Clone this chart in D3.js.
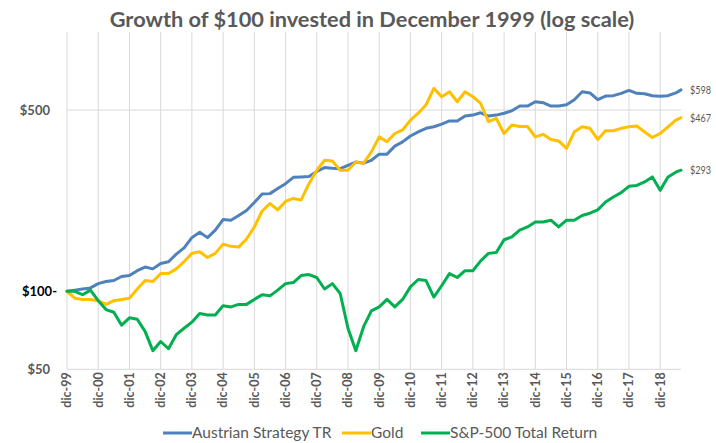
<!DOCTYPE html>
<html>
<head>
<meta charset="utf-8">
<script src="https://cdn.jsdelivr.net/npm/d3@7"></script>
<style>
  body { margin: 0; background: #fff; }
  svg { display: block; font-family: Lato, "Open Sans", sans-serif; }
</style>
</head>
<body>
<div id="chart"></div>
<script>
// months since Dec 1999, sampled quarterly, plus the last month (Aug 2019)
const sampleMonths = d3.range(0, 235, 3).concat([236]);

const austrian = [100, 101, 102, 103, 107, 109, 110, 114, 115, 120, 124, 122, 128, 130, 139, 147,
  161, 169, 161, 172, 189, 188, 196, 205, 220, 237, 238, 249, 260, 275, 276,
  277, 290, 300, 298, 297, 306, 315, 312, 320, 338, 338, 363, 377, 397, 412,
  425, 431, 441, 454, 454, 474, 478, 488, 474, 478, 486, 497, 518, 518, 538,
  534, 518, 518, 524, 548, 588, 582, 548, 566, 568, 580, 595, 580, 578, 568, 565, 568, 582, 598];

const gold = [100, 94, 93, 93, 92, 89, 92, 93, 94, 102, 110, 109, 117, 117, 122, 130,
  140, 142, 135, 140, 152, 149, 148, 159, 177, 204, 218, 206, 222, 228, 225,
  260, 293, 320, 318, 293, 293, 315, 312, 345, 394, 377, 406, 419, 457, 486,
  524, 606, 563, 588, 538, 588, 563, 530, 451, 464, 406, 438, 432, 432, 394,
  403, 385, 380, 356, 412, 431, 425, 385, 416, 416, 425, 431, 434, 412, 392, 406, 431, 457, 467];

const sp500 = [100, 100, 97, 101, 92, 85, 83, 74, 79, 78, 70, 59, 64, 60, 68, 72,
  76, 82, 81, 81, 88, 87, 89, 89, 93, 97, 96, 101, 107, 108, 115,
  116, 113, 102, 107, 98, 72, 59, 73, 84, 87, 93, 87, 93, 104, 111,
  110, 95, 105, 117, 113, 120, 120, 131, 140, 141, 158, 162, 172, 177, 185,
  185, 188, 177, 188, 188, 196, 200, 206, 221, 231, 240, 254, 256, 264, 276, 245, 276, 288, 293];

const seriesNames = ['Austrian Strategy TR', 'Gold', 'S&P-500 Total Return'];
const seriesColors = ['#4F81BD', '#FFC000', '#00B050'];
const endLabels = ['$598', '$467', '$293'];
const yearLabels = ['dic-99', 'dic-00', 'dic-01', 'dic-02', 'dic-03', 'dic-04', 'dic-05', 'dic-06',
  'dic-07', 'dic-08', 'dic-09', 'dic-10', 'dic-11', 'dic-12', 'dic-13', 'dic-14', 'dic-15',
  'dic-16', 'dic-17', 'dic-18'];
const yTicks = [50, 500];

const width = 716, height = 443;
const plotLeft = 67, plotRight = 681, plotTop = 32, plotBottom = 369.3;

const svg = d3.select('#chart').append('svg')
    .attr('width', width)
    .attr('height', height);

const x = d3.scaleLinear().domain([0, 236]).range([plotLeft, plotRight]);
const y = d3.scaleLog().domain([50, 1000]).range([plotBottom, plotTop]);

// title
const title = svg.append('text')
    .attr('x', 372)
    .attr('y', 27)
    .attr('text-anchor', 'middle')
    .attr('font-size', 20)
    .attr('font-weight', 'bold')
    .attr('fill', '#595959')
    .text('Growth of $100 invested in December 1999 (log scale)');
// fit title to the width of the original
const tw = title.node().getComputedTextLength();
title.attr('font-size', 20 * 525 / tw);

// vertical gridlines, one per December
svg.append('g')
    .selectAll('line')
    .data(yearLabels)
    .enter().append('line')
    .attr('x1', (d, i) => x(i * 12))
    .attr('x2', (d, i) => x(i * 12))
    .attr('y1', plotTop)
    .attr('y2', plotBottom)
    .attr('stroke', '#d9d9d9')
    .attr('stroke-width', 1);

// horizontal gridlines
svg.append('g')
    .selectAll('line')
    .data(yTicks)
    .enter().append('line')
    .attr('x1', plotLeft)
    .attr('x2', plotRight)
    .attr('y1', d => y(d))
    .attr('y2', d => y(d))
    .attr('stroke', '#d9d9d9')
    .attr('stroke-width', 1);

// y labels
svg.append('g')
    .selectAll('text')
    .data(yTicks)
    .enter().append('text')
    .attr('x', 50)
    .attr('y', d => y(d))
    .attr('dy', '0.35em')
    .attr('text-anchor', 'end')
    .attr('font-size', 13)
    .attr('font-weight', 'bold')
    .attr('fill', '#595959')
    .text(d => '$' + d);

svg.append('text')
    .attr('x', 57)
    .attr('y', y(100))
    .attr('dy', '0.35em')
    .attr('text-anchor', 'end')
    .attr('font-size', 13)
    .attr('font-weight', 'bold')
    .attr('fill', '#000')
    .text('$100-');

// x axis labels, rotated
svg.append('g')
    .selectAll('text')
    .data(yearLabels)
    .enter().append('text')
    .attr('transform', (d, i) => `translate(${x(i * 12)},${plotBottom + 3}) rotate(-90)`)
    .attr('dy', '0.35em')
    .attr('text-anchor', 'end')
    .attr('font-size', 12.5)
    .attr('font-weight', 'bold')
    .attr('fill', '#595959')
    .text(d => d);

// series lines
const line = d3.line()
    .x((d, i) => x(sampleMonths[i]))
    .y(d => y(d))
    .curve(d3.curveLinear);

const allSeries = [austrian, gold, sp500];

svg.append('g')
    .selectAll('path')
    .data(allSeries)
    .enter().append('path')
    .attr('d', line)
    .attr('fill', 'none')
    .attr('stroke', (d, i) => seriesColors[i])
    .attr('stroke-width', 3)
    .attr('stroke-linejoin', 'round')
    .attr('stroke-linecap', 'round');

// end value labels
svg.append('g')
    .selectAll('text')
    .data(allSeries)
    .enter().append('text')
    .attr('x', 690)
    .attr('y', d => y(d[d.length - 1]))
    .attr('dy', '0.35em')
    .attr('font-size', 11)
    .attr('textLength', 21)
    .attr('lengthAdjust', 'spacingAndGlyphs')
    .attr('fill', '#595959')
    .text((d, i) => endLabels[i]);

// legend at the bottom
const legendX = [163, 342, 421];
const legend = svg.append('g')
    .selectAll('g')
    .data(seriesNames)
    .enter().append('g')
    .attr('transform', (d, i) => `translate(${legendX[i]},433)`);

legend.append('line')
    .attr('x1', 0)
    .attr('x2', 29)
    .attr('stroke', (d, i) => seriesColors[i])
    .attr('stroke-width', 3);

legend.append('text')
    .attr('x', 29)
    .attr('y', 5)
    .attr('font-size', 15.5)
    .attr('fill', '#595959')
    .text(d => d);
</script>
</body>
</html>
